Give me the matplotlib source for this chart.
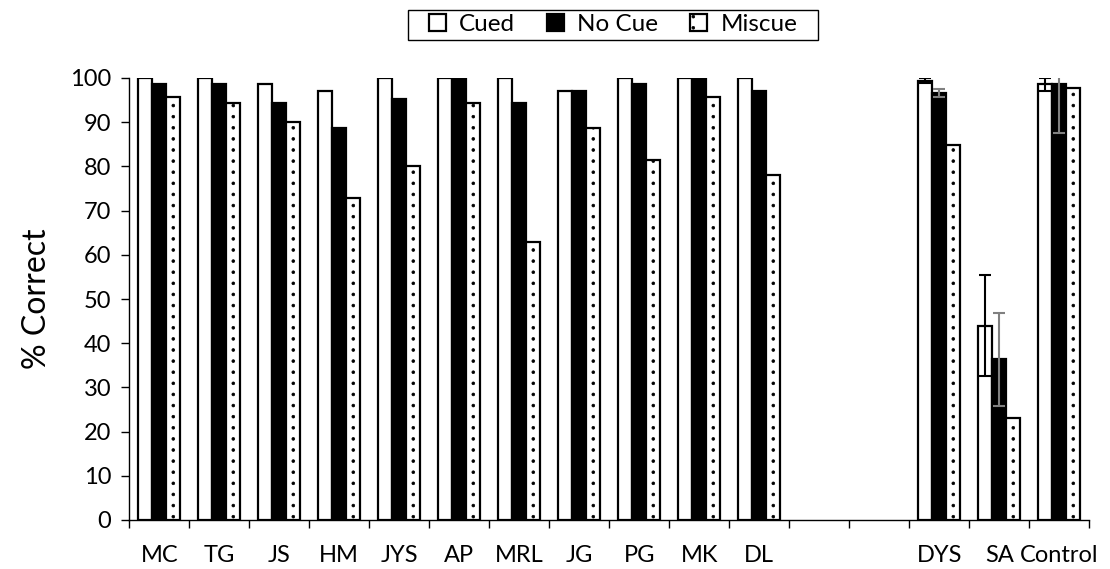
import numpy as np
import matplotlib
matplotlib.use("Agg")
import matplotlib.pyplot as plt
from matplotlib import hatch as mhatch
from matplotlib.patches import Patch, Rectangle

# ---------------- data ----------------
categories = ["MC", "TG", "JS", "HM", "JYS", "AP", "MRL", "JG", "PG", "MK", "DL",
              "", "", "DYS", "SA", "Control"]
cued    = [100, 100, 98.6, 97.1, 100, 100, 100, 97.1, 100, 100, 100,
           np.nan, np.nan, 99.4, 44.0, 98.6]
no_cue  = [98.6, 98.6, 94.3, 88.6, 95.2, 100, 94.3, 97.1, 98.6, 100, 97.1,
           np.nan, np.nan, 96.6, 36.4, 98.6]
miscue  = [95.7, 94.3, 90.0, 72.9, 80.0, 94.3, 62.9, 88.6, 81.4, 95.7, 78.0,
           np.nan, np.nan, 84.8, 23.0, 97.7]
cued_err   = [np.nan] * 13 + [0.6, 11.5, 1.5]
no_cue_err = [np.nan] * 13 + [1.0, 10.5, 11.0]
yticks = list(range(0, 101, 10))
series_names = ["Cued", "No Cue", "Miscue"]

# ---------------- custom sparse dot hatch (single dot column per bar) ----------------
class ColumnDots(mhatch.HatchPatternBase):
    cols = [0.133, 0.333, 0.533, 0.733, 0.933]
    rows = 9
    r = 0.014

    def __init__(self, hatch, density):
        self.on = hatch.count('.') > 0
        self.circle = mhatch.Path.unit_circle()
        self.n_per = len(self.circle.vertices)
        self.num_vertices = (len(self.cols) * self.rows * self.n_per) if self.on else 0

    def set_vertices_and_codes(self, vertices, codes):
        cur = 0
        for cx in self.cols:
            for j in range(self.rows):
                cy = (j + 0.5) / self.rows
                vertices[cur:cur + self.n_per] = self.circle.vertices * self.r + [cx, cy]
                codes[cur:cur + self.n_per] = self.circle.codes
                cur += self.n_per

try:
    mhatch._hatch_types[:] = [t for t in mhatch._hatch_types
                              if t is not mhatch.SmallFilledCircles] + [ColumnDots]
except Exception:
    pass

# ---------------- figure ----------------
plt.rcParams['font.family'] = ['Lato', 'DejaVu Sans']
plt.rcParams['hatch.color'] = '#606060'
plt.rcParams['hatch.linewidth'] = 0.5

fig = plt.figure(figsize=(11.10, 5.69), dpi=100)
ax = fig.add_axes([129.3 / 1110, 1 - 520 / 569, 960 / 1110, 442 / 569])

x = np.arange(len(categories))
w = 0.233
lw = 1.6
ax.bar(x - w, cued, w, color='white', edgecolor='black', linewidth=lw, zorder=2)
ax.bar(x, no_cue, w, color='black', edgecolor='black', linewidth=lw, zorder=2)
ax.bar(x + w, miscue, w, color='white', edgecolor='black', linewidth=lw,
       hatch='.', zorder=2)

ax.errorbar(x - w, cued, yerr=cued_err, fmt='none', ecolor='black',
            elinewidth=1.5, capsize=4, capthick=1.5, zorder=3)
ax.errorbar(x, no_cue, yerr=no_cue_err, fmt='none', ecolor='#808080',
            elinewidth=1.5, capsize=4, capthick=1.5, zorder=3)

ax.set_xlim(-0.5, len(categories) - 0.5)
ax.set_ylim(0, 100)
ax.set_yticks(yticks)
ax.set_xticks(x)
ax.set_xticklabels(categories)
ax.set_xticks(np.arange(len(categories) + 1) - 0.5, minor=True)
ax.tick_params(axis='x', which='major', length=0, pad=18, labelsize=17)
ax.tick_params(axis='x', which='minor', length=6, direction='out', width=1)
ax.tick_params(axis='y', length=6, width=1, direction='out', pad=7, labelsize=17)

for s in ['top', 'right']:
    ax.spines[s].set_visible(False)
for s in ['left', 'bottom']:
    ax.spines[s].set_color('black')
    ax.spines[s].set_linewidth(1)

ax.set_ylabel("% Correct", fontsize=23, labelpad=13)

handles = [Patch(facecolor='white', edgecolor='black', linewidth=1.6),
           Patch(facecolor='black', edgecolor='black', linewidth=1.6),
           Patch(facecolor='white', edgecolor='black', linewidth=1.6, hatch='.')]
leg = fig.legend(handles, series_names, loc='center', bbox_to_anchor=(0.5523, 0.957),
                 ncol=3, fontsize=17.5, frameon=False,
                 handlelength=0.7, handleheight=0.7,
                 handletextpad=0.55, columnspacing=1.3, borderpad=0.2,
                 borderaxespad=0)

# frame around the legend with wider horizontal padding (as in the reference)
fig.canvas.draw()
bb = leg.get_window_extent().transformed(fig.transFigure.inverted())
padx = 16 / 1110
fig.add_artist(Rectangle((bb.x0 - padx, 1 - 40 / 569), bb.width + 2 * padx, 30 / 569,
                         transform=fig.transFigure, facecolor='none',
                         edgecolor='black', linewidth=1))

fig.savefig("out.png", dpi=100)
